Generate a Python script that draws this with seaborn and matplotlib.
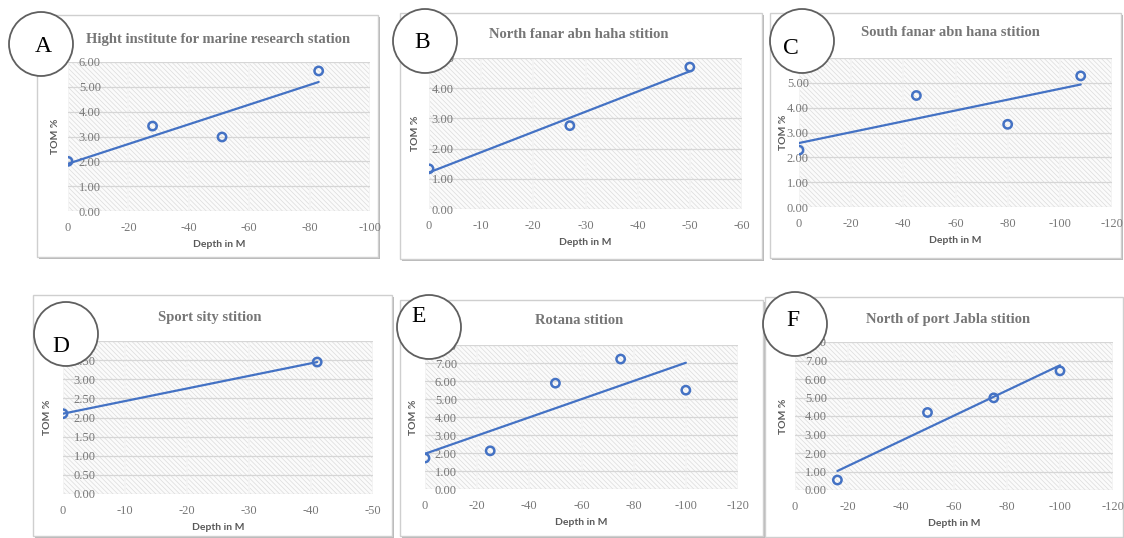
import numpy as np
import pandas as pd
import seaborn as sns
import matplotlib
matplotlib.use("Agg")
import matplotlib.pyplot as plt
from matplotlib.patches import Rectangle, Circle
from matplotlib.ticker import FixedLocator, FuncFormatter

# ---- station data: depth (m, negative downward) and total organic matter (%) ----
depth_a = [0, -28, -51, -83]
tom_a = [2.00, 3.42, 2.98, 5.64]

depth_b = [0, -27, -50]
tom_b = [1.33, 2.76, 4.70]

depth_c = [0, -45, -80, -108]
tom_c = [2.29, 4.49, 3.33, 5.28]

depth_d = [0, -41]
tom_d = [2.10, 3.45]

depth_e = [0, -25, -50, -75, -100]
tom_e = [1.72, 2.12, 5.88, 7.22, 5.49]

depth_f = [-16, -50, -75, -100]
tom_f = [0.54, 4.19, 4.98, 6.44]

titles = [
    "Hight institute for marine research station",
    "North fanar abn haha stition",
    "South fanar abn hana stition",
    "Sport sity stition",
    "Rotana stition",
    "North of port Jabla stition",
]
letters = ["A", "B", "C", "D", "E", "F"]
x_label = "Depth in M"
y_label = "TOM %"

x_max = [-100, -60, -120, -50, -120, -120]
x_step = [20, 10, 20, 10, 20, 20]
y_max = [6, 5, 6, 4, 8, 8]
y_step = [1, 1, 1, 0.5, 1, 1]

# ---- layout (pixels on a 1124 x 538 canvas) ----
W, H = 1124, 538
boxes = [(37, 15, 378, 257), (400, 13, 762, 259), (770, 13, 1121, 258),
         (33, 295, 392, 536), (400, 300, 763, 536), (765, 297, 1123, 537)]
plots = [(68, 62, 370, 211), (429, 58, 742, 209), (799, 58, 1112, 207),
         (63, 341, 373, 494), (425, 345, 738, 489), (795, 342, 1113, 490)]
# right edge (px) of the value-axis labels; the axis sits just right of it
ylab_right = [102, 455, 810, 97, 458, 828]
title_pos = [(218, 40), (579, 35), (950, 33), (210, 318), (579, 321), (948, 319)]
ylab_x = [55, 415, 784, 48, 413, 783]
circles = [(41, 44), (425, 41), (802, 41), (66, 334), (429, 327), (795, 324)]
letter_pos = [(43, 46), (422, 43), (791, 49), (61, 347), (419, 316), (793, 321)]
radius = 32

blue = "#4472c4"

sns.set_theme(style="white")
plt.rcParams["axes.unicode_minus"] = False
plt.rcParams["hatch.linewidth"] = 0.5

fig = plt.figure(figsize=(W / 100, H / 100), dpi=100)
fig.patch.set_facecolor("white")

# background layer: chart frames with soft shadow, chart titles, axis titles
bg = fig.add_axes([0, 0, 1, 1], zorder=0)
bg.set_xlim(0, W)
bg.set_ylim(H, 0)
bg.axis("off")

for (l, t, r, b) in boxes:
    bg.add_patch(Rectangle((l + 2, t + 2), r - l, b - t, facecolor="#9a9a9a",
                           edgecolor="none", alpha=0.7))
    bg.add_patch(Rectangle((l, t), r - l, b - t, facecolor="white",
                           edgecolor="#cfcfcf", linewidth=1))

for (tx, ty), title in zip(title_pos, titles):
    bg.text(tx, ty, title, ha="center", va="center", fontsize=10.5,
            fontweight="bold", family="Liberation Serif", color="#767676")

for (l, t, r, b), lx in zip(plots, ylab_x):
    bg.text(lx, (t + b) / 2, y_label, rotation=90, ha="center", va="center",
            fontsize=7.5, fontweight="bold", family="Lato", color="#595959")

depths = [depth_a, depth_b, depth_c, depth_d, depth_e, depth_f]
toms = [tom_a, tom_b, tom_c, tom_d, tom_e, tom_f]

for i in range(6):
    l, t, r, b = plots[i]
    ax = fig.add_axes([l / W, 1 - b / H, (r - l) / W, (b - t) / H], zorder=1)
    ax.set_facecolor("none")
    # patterned plot area
    ax.add_patch(Rectangle((0, 0), 1, 1, transform=ax.transAxes, facecolor="#fbfbfb",
                           edgecolor="#dcdcdc", linewidth=0, hatch="\\\\\\\\\\\\\\",
                           zorder=0))

    df = pd.DataFrame({"depth": depths[i], "tom": toms[i]})
    sns.regplot(data=df, x="depth", y="tom", ax=ax, ci=None, truncate=True,
                marker="o",
                scatter_kws=dict(facecolors="none", s=36, linewidths=1.8,
                                 alpha=1, zorder=4, color=blue),
                line_kws=dict(color=blue, lw=1.6, zorder=3))

    ax.set_xlim(0, x_max[i])
    ax.set_ylim(0, y_max[i])
    xt = np.arange(0, x_max[i] - x_step[i] / 2, -x_step[i])
    yt = np.arange(0, y_max[i] + y_step[i] / 2, y_step[i])
    ax.xaxis.set_major_locator(FixedLocator(xt))
    ax.yaxis.set_major_locator(FixedLocator(yt))
    ax.xaxis.set_major_formatter(FuncFormatter(lambda v, p: f"{int(round(v))}"))
    ax.yaxis.set_major_formatter(FuncFormatter(lambda v, p: f"{v:.2f}"))

    ax.set_axisbelow(True)
    ax.grid(axis="y", color="#d6d6d6", linewidth=0.9)
    ax.grid(axis="x", color="#f4f4f4", linewidth=1.4)
    for s in ax.spines.values():
        s.set_visible(False)
    # value axis crosses the depth axis a little inside the plot area
    cross = (ylab_right[i] + 3 - l) / (r - l) * x_max[i]
    ax.spines["left"].set_position(("data", cross))

    ax.tick_params(axis="both", length=0, labelsize=9, labelcolor="#787878")
    ax.tick_params(axis="x", pad=8)
    ax.tick_params(axis="y", pad=3)
    for lab in ax.get_xticklabels() + ax.get_yticklabels():
        lab.set_family("Liberation Serif")

    ax.set_xlabel(x_label, fontsize=7.5, fontweight="bold", family="Lato",
                  color="#595959", labelpad=4)
    ax.set_ylabel("")

# top layer: panel letters in circles
top = fig.add_axes([0, 0, 1, 1], zorder=10)
top.set_xlim(0, W)
top.set_ylim(H, 0)
top.set_aspect("equal")
top.axis("off")
top.patch.set_alpha(0)
for (cx, cy), (lx, ly), letter in zip(circles, letter_pos, letters):
    top.add_patch(Circle((cx, cy), radius, facecolor="white", edgecolor="#5f5f5f",
                         linewidth=1.3))
    top.text(lx, ly, letter, ha="center", va="center", fontsize=17,
             family="Liberation Serif", color="black")

fig.savefig("out.png", dpi=100, facecolor="white")
